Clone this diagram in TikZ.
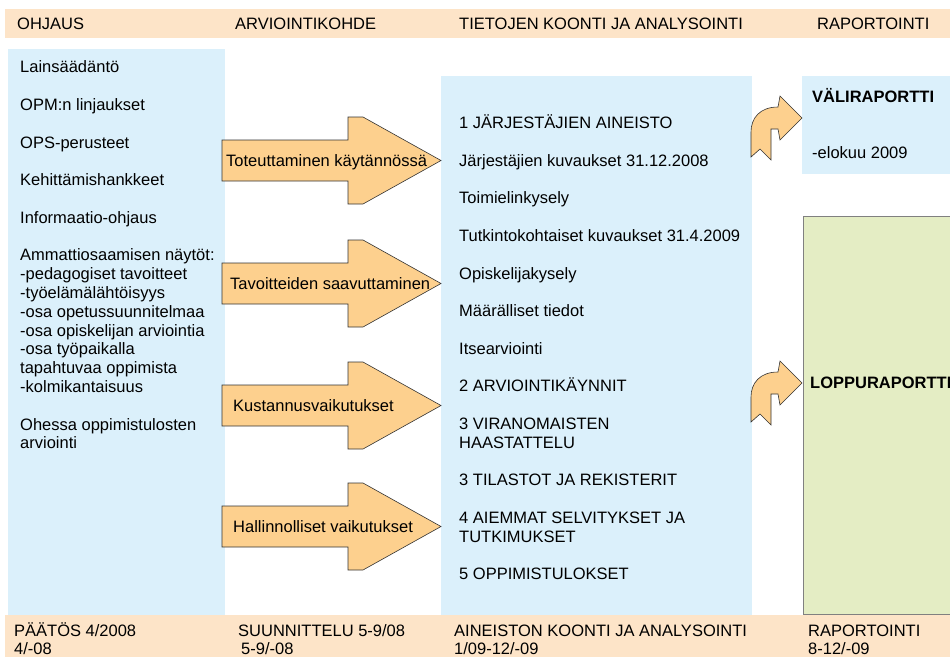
\documentclass[tikz,border=0pt]{standalone}
\usepackage{fontspec}
\setmainfont{Liberation Sans}
\definecolor{persikka}{RGB}{253,228,200}
\definecolor{vaaleansin}{RGB}{219,240,251}
\definecolor{oranssi}{RGB}{253,208,142}
\definecolor{vihrea}{RGB}{228,237,196}

\begin{document}
\begin{tikzpicture}[x=1pt,y=-1pt,
        rivi/.style={anchor=west,inner sep=0pt,text height=11.8pt,text depth=0pt,
                font=\fontsize{16.5}{19}\selectfont},
        lihava/.style={rivi,font=\fontsize{16.5}{19}\selectfont\bfseries},
        nuoli/.style={fill=oranssi,draw=black!80,line width=0.6pt,line join=miter},
        isonuoli/.pic={
                \draw[nuoli] (222,-20.5) -- (348,-20.5) -- (348,-43.5) -- (363,-43.5)
                -- (441,0) -- (363,43.5) -- (348,43.5) -- (348,20.5) -- (222,20.5) -- cycle;
            },
        kaarinuoli/.pic={
                \draw[nuoli] (-51,39) -- (-51,14) .. controls (-51,0) and (-42,-11) .. (-24,-11)
                -- (-22,-22) -- (0,0) -- (-22,22) -- (-24,11) -- (-31,11) -- (-31,42)
                -- (-42,31) -- cycle;
            }]
        \useasboundingbox (0,0) rectangle (950,657);
        \clip (0,0) rectangle (950,657);

        % taustat
        \fill[persikka] (5,9) rectangle (950,38);
        \fill[persikka] (5,615) rectangle (950,657);
        \fill[vaaleansin] (8,49) rectangle (225,615);
        \fill[vaaleansin] (441,76) rectangle (752,615);
        \fill[vaaleansin] (802,76) rectangle (950,174);
        \draw[fill=vihrea,draw=black!50,line width=0.8pt] (803,216) rectangle (960,614);

        % otsikot
        \node[rivi] (ohjaus) at (17,23.5) {OHJAUS};
        \node[rivi] (kohde) at (235,23.5) {ARVIOINTIKOHDE};
        \node[rivi] (koonti) at (459,23.5) {TIETOJEN KOONTI JA ANALYSOINTI};
        \node[rivi] (raportointi) at (817,23.5) {RAPORTOINTI};

        % ohjaus
        \node[rivi] (laki) at (20,67) {Lainsäädäntö};
        \node[rivi] (opm) at (20,104.6) {OPM:n linjaukset};
        \node[rivi] (ops) at (20,142.2) {OPS-perusteet};
        \node[rivi] (hankkeet) at (20,179.8) {Kehittämishankkeet};
        \node[rivi] (info) at (20,217.4) {Informaatio-ohjaus};
        \node[rivi] (naytot) at (20,255) {Ammattiosaamisen näytöt:};
        \node[rivi] (naytot-1) at (20,273.8) {-pedagogiset tavoitteet};
        \node[rivi] (naytot-2) at (20,292.6) {-työelämälähtöisyys};
        \node[rivi] (naytot-3) at (20,311.4) {-osa opetussuunnitelmaa};
        \node[rivi] (naytot-4) at (20,330.2) {-osa opiskelijan arviointia};
        \node[rivi] (naytot-5) at (20,349) {-osa työpaikalla};
        \node[rivi] (naytot-6) at (20,367.8) {tapahtuvaa oppimista};
        \node[rivi] (naytot-7) at (20,386.6) {-kolmikantaisuus};
        \node[rivi] (ohessa) at (20,424.2) {Ohessa oppimistulosten};
        \node[rivi] (ohessa-2) at (20,443) {arviointi};

        % arviointikohteet
        \pic at (0,160.5) {isonuoli};
        \pic at (0,283.5) {isonuoli};
        \pic at (0,405.5) {isonuoli};
        \pic at (0,526.5) {isonuoli};
        \node[rivi] (toteutus) at (226,160.5) {Toteuttaminen käytännössä};
        \node[rivi] (tavoitteet) at (230,283.5) {Tavoitteiden saavuttaminen};
        \node[rivi] (kustannus) at (233,405.5) {Kustannusvaikutukset};
        \node[rivi] (hallinto) at (233,526.5) {Hallinnolliset vaikutukset};

        % aineistot
        \node[rivi] (aineisto) at (459,122.7) {1 JÄRJESTÄJIEN AINEISTO};
        \node[rivi] (kuvaukset) at (459,160.3) {Järjestäjien kuvaukset 31.12.2008};
        \node[rivi] (toimielin) at (459,197.9) {Toimielinkysely};
        \node[rivi] (tutkinto) at (459,235.5) {Tutkintokohtaiset kuvaukset 31.4.2009};
        \node[rivi] (opiskelija) at (459,273.1) {Opiskelijakysely};
        \node[rivi] (maaralliset) at (459,310.7) {Määrälliset tiedot};
        \node[rivi] (itsearvio) at (459,348.3) {Itsearviointi};
        \node[rivi] (kaynnit) at (459,385.9) {2 ARVIOINTIKÄYNNIT};
        \node[rivi] (viranom) at (459,423.5) {3 VIRANOMAISTEN};
        \node[rivi] (viranom-2) at (459,442.3) {HAASTATTELU};
        \node[rivi] (tilastot) at (459,479.9) {3 TILASTOT JA REKISTERIT};
        \node[rivi] (selvitys) at (459,517.5) {4 AIEMMAT SELVITYKSET JA};
        \node[rivi] (selvitys-2) at (459,536.3) {TUTKIMUKSET};
        \node[rivi] (tulokset) at (459,573.9) {5 OPPIMISTULOKSET};

        % raportit
        \pic at (802,118) {kaarinuoli};
        \pic at (802,383) {kaarinuoli};
        \node[lihava] (vali) at (812,97) {VÄLIRAPORTTI};
        \node[rivi] (elokuu) at (812,153) {-elokuu 2009};
        \node[lihava] (loppu) at (810,383) {LOPPURAPORTTI};

        % aikataulu
        \node[rivi] (paatos) at (14,631) {PÄÄTÖS 4/2008};
        \node[rivi] (paatos-2) at (14,648.5) {4/-08};
        \node[rivi] (suunnittelu) at (238,631) {SUUNNITTELU 5-9/08};
        \node[rivi] (suunnittelu-2) at (241,648.5) {5-9/-08};
        \node[rivi] (analyysi) at (454,631) {AINEISTON KOONTI JA ANALYSOINTI};
        \node[rivi] (analyysi-2) at (454,648.5) {1/09-12/-09};
        \node[rivi] (raportit) at (808,631) {RAPORTOINTI};
        \node[rivi] (raportit-2) at (808,648.5) {8-12/-09};
    \end{tikzpicture}
\end{document}
